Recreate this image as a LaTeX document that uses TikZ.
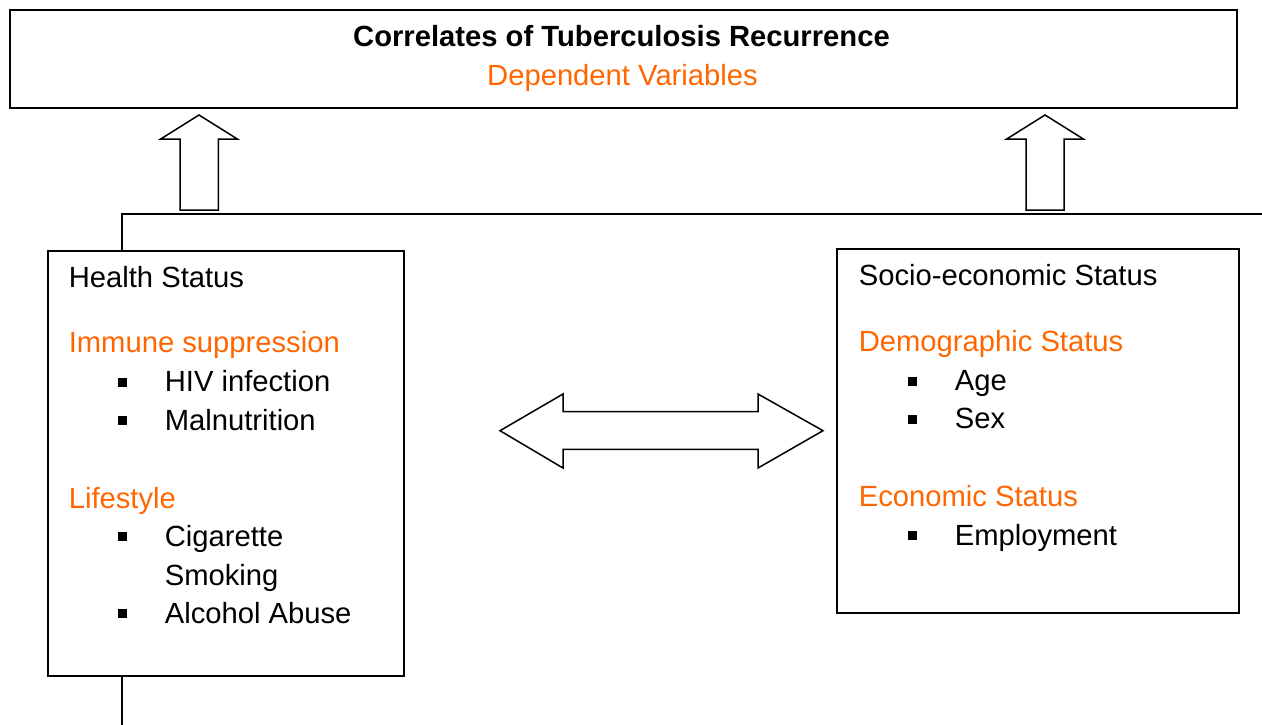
\documentclass[tikz,border=0pt]{standalone}
\usepackage{fontspec}
\setmainfont{Liberation Sans}
\definecolor{orng}{HTML}{FF6600}
\begin{document}
\begin{tikzpicture}[x=1pt,y=-1pt,line width=1.6pt,
  txt/.style={anchor=base west,inner sep=0pt,font=\fontsize{29.2}{35}\selectfont},
  hd/.style={txt,text=orng},
  box/.style={draw,inner sep=0pt,anchor=north west,line join=miter},
  blk/.style={draw,fill=white,line width=1.5pt,line join=miter},
  bul/.style={fill=black,draw=none}]
\useasboundingbox (0,0) rectangle (1262,725);
% boxes
\node[box,minimum width=1227pt,minimum height=98pt] (top) at (9,9) {};
\node[box,minimum width=356pt,minimum height=425pt] (health) at (47,250) {};
\node[box,minimum width=402pt,minimum height=364pt] (socio) at (836,248) {};
% title
\node[anchor=base,inner sep=0pt,font=\fontsize{29.2}{35}\selectfont\bfseries] (title) at (621.5,46.7) {Correlates of Tuberculosis Recurrence};
\node[anchor=base,inner sep=0pt,font=\fontsize{29.2}{35}\selectfont,text=orng] (dep) at (622.5,85.7) {Dependent Variables};
% connector lines
\coordinate (hx) at (122,214);
\coordinate (rend) at (1262,214);
\coordinate (bend) at (122,725);
\draw (health.north -| hx) -- (hx) -- (rend);
\draw (health.south -| hx) -- (bend);
% up block arrows
\draw[blk] (199,115) -- (160.7,139) -- (180,139) -- (180,210) -- (218.3,210) -- (218.3,139) -- (237.3,139) -- cycle;
\draw[blk] (1045,115) -- (1006.7,139) -- (1026,139) -- (1026,210) -- (1064,210) -- (1064,139) -- (1083.3,139) -- cycle;
% double block arrow
\draw[blk] (500,430.7) -- (563,394) -- (563,411.7) -- (758,411.7) -- (758,394) -- (823,430.7) -- (758,468) -- (758,449.3) -- (563,449.3) -- (563,468) -- cycle;
% health text
\node[txt] (hs) at (68,287) {Health Status};
\node[hd] (imm) at (68,352.7) {Immune suppression};
\node[txt] (hiv) at (164,391.7) {HIV infection};
\node[txt] (mal) at (164,430) {Malnutrition};
\node[hd] (life) at (68,508.3) {Lifestyle};
\node[txt] (cig) at (164,546) {Cigarette};
\node[txt] (smk) at (164,585) {Smoking};
\node[txt] (alc) at (164,623.3) {Alcohol Abuse};
% socio text
\node[txt] (ses) at (858,285.7) {Socio-economic Status};
\node[hd] (dem) at (858,351) {Demographic Status};
\node[txt] (age) at (954,390.7) {Age};
\node[txt] (sex) at (954,428.5) {Sex};
\node[hd] (eco) at (858,506.7) {Economic Status};
\node[txt] (emp) at (954,545) {Employment};
% bullets
\foreach \b in {391.7,430,546,623.3}
  \fill[bul] (118,\b-14) rectangle (126.8,\b-5);
\foreach \b in {390.7,428.5,545}
  \fill[bul] (908,\b-14) rectangle (916.8,\b-5);
\end{tikzpicture}
\end{document}
